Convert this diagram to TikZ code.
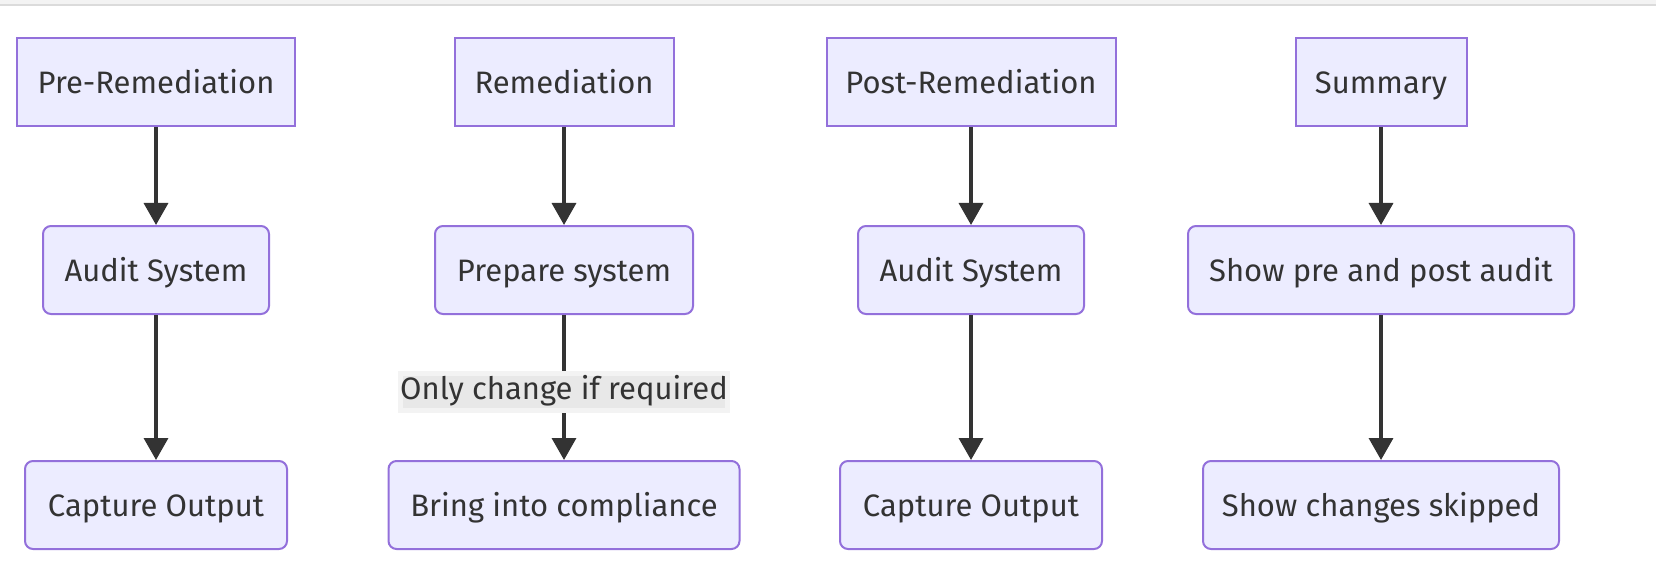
\documentclass[tikz,border=0pt]{standalone}
\usepackage{fontspec}
\setmainfont{Fira Sans}
\usetikzlibrary{arrows.meta}
\definecolor{boxfill}{HTML}{ECECFF}
\definecolor{boxline}{HTML}{9370DB}
\definecolor{ink}{HTML}{333333}
\definecolor{labelfill}{HTML}{E8E8E8}
\definecolor{labelrim}{HTML}{F3F3F3}
\begin{document}
\begin{tikzpicture}[x=1pt, y=-1pt,
    phase/.style = {draw = boxline, fill = boxfill, line width = 2pt, text = ink,
      minimum height = 88pt, inner sep = 0pt, text height = 30pt, text depth = 7pt,
      font = \fontsize{31}{36}\selectfont},
    task/.style = {phase, rounded corners = 8pt},
    flow/.style = {draw = ink, line width = 3.5pt, -{Triangle[length = 22pt, width = 24pt]}},
    note/.style = {fill = labelfill, draw = labelrim, line width = 5pt, text = ink,
      inner xsep = 0pt, inner ysep = 4pt, text height = 22pt, text depth = 7pt,
      font = \fontsize{31}{36}\selectfont}]
    \useasboundingbox (0,0) rectangle (1656,580);
    \fill[color = labelrim] (0,0) rectangle (1656,4);
    \draw[color = black!14, line width = 2pt] (0,5) -- (1656,5);

    % first row
    \node[phase, minimum width = 278pt] (pre) at (156, 82) {Pre-Remediation};
    \node[phase, minimum width = 219pt] (rem) at (564, 82) {Remediation};
    \node[phase, minimum width = 289pt] (post) at (971, 82) {Post-Remediation};
    \node[phase, minimum width = 171pt] (sum) at (1381, 82) {Summary};

    % second row
    \node[task, minimum width = 226pt] (preaudit) at (156, 270) {Audit System};
    \node[task, minimum width = 258pt] (prepare) at (564, 270) {Prepare system};
    \node[task, minimum width = 226pt] (postaudit) at (971, 270) {Audit System};
    \node[task, minimum width = 386pt] (show) at (1381, 270) {Show pre and post audit};

    % third row
    \node[task, minimum width = 262pt] (precap) at (156, 505) {Capture Output};
    \node[task, minimum width = 351pt] (comply) at (564, 505) {Bring into compliance};
    \node[task, minimum width = 262pt] (postcap) at (971, 505) {Capture Output};
    \node[task, minimum width = 356pt] (skip) at (1381, 505) {Show changes skipped};

    \draw[flow] (pre) -- (preaudit);
    \draw[flow] (preaudit) -- (precap);
    \draw[flow] (rem) -- (prepare);
    \draw[flow] (prepare) -- (comply) node[note, pos = 0.53] (why) {Only change if required};
    \draw[flow] (post) -- (postaudit);
    \draw[flow] (postaudit) -- (postcap);
    \draw[flow] (sum) -- (show);
    \draw[flow] (show) -- (skip);

  \end{tikzpicture}
\end{document}
